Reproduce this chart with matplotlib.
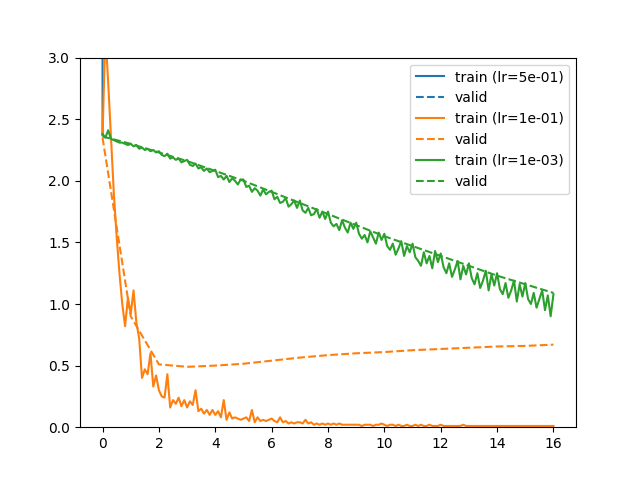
import numpy as np
import matplotlib
matplotlib.use('Agg')
import matplotlib.pyplot as plt

batches_per_epoch = 10
epochs = list(range(17))

# lr=5e-01 diverged right after the first batch
train_05 = [2.37, 5000.0]
valid_05 = [np.nan, np.nan]

# lr=1e-01, one value per batch (10 per epoch)
train_01 = [
    2.37, 3.20, 2.80, 2.35, 1.90, 1.55, 1.25, 1.00, 0.82, 1.05,
    0.92, 1.11, 0.85, 0.72, 0.40, 0.47, 0.43, 0.60, 0.33, 0.42,
    0.30, 0.25, 0.24, 0.43, 0.16, 0.22, 0.19, 0.24, 0.17, 0.22,
    0.16, 0.21, 0.18, 0.30, 0.13, 0.15, 0.11, 0.14, 0.10, 0.14,
    0.10, 0.13, 0.08, 0.22, 0.06, 0.12, 0.07, 0.08, 0.07, 0.06,
    0.07, 0.08, 0.05, 0.14, 0.04, 0.08, 0.05, 0.06, 0.05, 0.06,
    0.07, 0.05, 0.04, 0.08, 0.04, 0.05, 0.03, 0.04, 0.03, 0.04,
    0.04, 0.03, 0.06, 0.03, 0.04, 0.02, 0.03, 0.02, 0.03, 0.02,
    0.03, 0.02, 0.03, 0.02, 0.03, 0.02, 0.02, 0.02, 0.02, 0.02,
    0.02, 0.02, 0.01, 0.02, 0.02, 0.02, 0.01, 0.02, 0.02, 0.03,
    0.02, 0.01, 0.02, 0.02, 0.01, 0.02, 0.01, 0.01, 0.02, 0.01,
    0.01, 0.02, 0.01, 0.02, 0.01, 0.01, 0.02, 0.01, 0.01, 0.01,
    0.02, 0.01, 0.01, 0.01, 0.01, 0.01, 0.01, 0.01, 0.02, 0.01,
    0.01, 0.01, 0.01, 0.01, 0.01, 0.01, 0.01, 0.01, 0.01, 0.01,
    0.01, 0.01, 0.01, 0.01, 0.01, 0.01, 0.01, 0.01, 0.01, 0.01,
    0.01, 0.01, 0.01, 0.01, 0.01, 0.01, 0.01, 0.01, 0.01, 0.01,
    0.01,
]
valid_01 = [2.35, 0.90, 0.51, 0.49, 0.50, 0.515, 0.54, 0.565, 0.585,
            0.60, 0.61, 0.625, 0.635, 0.645, 0.655, 0.66, 0.67]

# lr=1e-03
train_001 = [
    2.38, 2.35, 2.41, 2.34, 2.33, 2.32, 2.31, 2.31, 2.30, 2.29,
    2.30, 2.28, 2.29, 2.26, 2.27, 2.25, 2.26, 2.24, 2.25, 2.23,
    2.24, 2.21, 2.20, 2.22, 2.18, 2.19, 2.17, 2.18, 2.15, 2.16,
    2.17, 2.13, 2.12, 2.14, 2.10, 2.11, 2.08, 2.10, 2.07, 2.08,
    2.09, 2.03, 2.04, 2.01, 2.04, 1.99, 2.02, 2.00, 1.97, 2.01,
    2.01, 1.95, 1.96, 1.91, 1.94, 1.92, 1.88, 1.93, 1.89, 1.91,
    1.92, 1.85, 1.87, 1.82, 1.83, 1.86, 1.79, 1.81, 1.84, 1.78,
    1.84, 1.76, 1.74, 1.78, 1.72, 1.73, 1.77, 1.70, 1.75, 1.69,
    1.75, 1.66, 1.63, 1.65, 1.60, 1.68, 1.62, 1.58, 1.66, 1.61,
    1.66, 1.57, 1.53, 1.56, 1.50, 1.59, 1.54, 1.49, 1.58, 1.52,
    1.57, 1.47, 1.44, 1.49, 1.40, 1.45, 1.51, 1.39, 1.47, 1.42,
    1.49, 1.38, 1.35, 1.31, 1.42, 1.33, 1.39, 1.29, 1.43, 1.34,
    1.41, 1.30, 1.25, 1.33, 1.22, 1.28, 1.35, 1.20, 1.31, 1.24,
    1.33, 1.21, 1.16, 1.25, 1.13, 1.19, 1.27, 1.11, 1.24, 1.15,
    1.25, 1.12, 1.08, 1.17, 1.05, 1.11, 1.19, 1.02, 1.16, 1.06,
    1.17, 1.04, 1.00, 1.09, 0.97, 1.04, 1.11, 0.95, 1.07, 0.90,
    1.08,
]
valid_001 = [2.36, 2.30, 2.23, 2.16, 2.08, 2.00, 1.91, 1.82, 1.73,
             1.64, 1.55, 1.47, 1.39, 1.31, 1.23, 1.16, 1.09]

runs = [
    ('5e-01', train_05, valid_05),
    ('1e-01', train_01, valid_01),
    ('1e-03', train_001, valid_001),
]

fig = plt.figure(figsize=(6.4, 4.8), dpi=100)
for i, (lr, tr, va) in enumerate(runs):
    color = 'C%d' % i
    x_tr = np.arange(len(tr)) / batches_per_epoch
    plt.plot(x_tr, tr, color=color, label='train (lr=%s)' % lr)
    plt.plot(epochs[:len(va)], va, '--', color=color, label='valid')

plt.ylim(0, 3)
plt.legend(loc='upper right')
plt.savefig('out.png')
